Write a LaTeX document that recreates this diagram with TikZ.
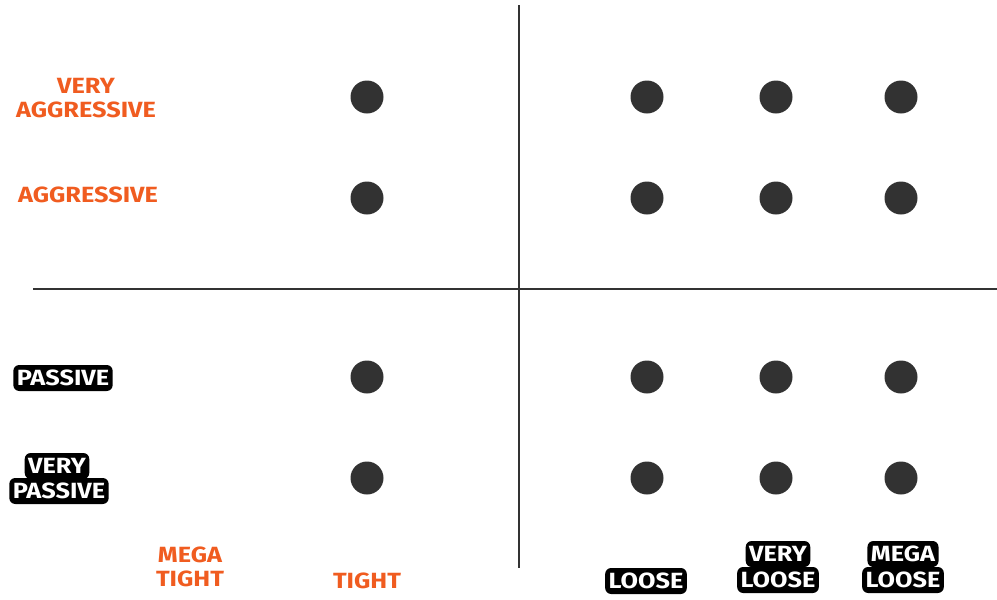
\documentclass[tikz,border=0pt]{standalone}
\usepackage{fontspec}
\setmainfont{Fira Sans}[FakeStretch=1.15]
\definecolor{orangelab}{RGB}{240,92,32}
\definecolor{dotgray}{RGB}{50,50,50}
\begin{document}
\begin{tikzpicture}[x=1pt,y=-1pt,
  lab/.style={font=\bfseries\fontsize{22}{24}\selectfont, align=center, inner sep=0pt},
  olab/.style={lab, text=orangelab},
  blab/.style={font=\bfseries\fontsize{22}{24}\selectfont, text=white, fill=black,
    rounded corners=6pt, text height=15pt, text depth=0pt, inner xsep=3.5pt, inner ysep=5.5pt},
  dot/.style={circle, fill=dotgray, minimum size=33pt, inner sep=0pt},
  axis/.style={draw=black!80, line width=1.3pt}]
\useasboundingbox (0,0) rectangle (997,600);
% axes
\coordinate (vt) at (519,5); \coordinate (vb) at (519,568);
\coordinate (hl) at (33,289); \coordinate (hr) at (997,289);
\draw[axis] (vt) -- (vb);
\draw[axis] (hl) -- (hr);
% dots
\foreach \r/\y in {1/97,2/198,3/377,4/478}{
  \foreach \c/\x in {1/367,2/647,3/776,4/901}{
    \node[dot] (d\r\c) at (\x,\y) {};
  }
}
% orange labels
\node[olab] (va) at (86,98) {VERY\\AGGRESSIVE};
\node[olab] (ag) at (88,195) {AGGRESSIVE};
\node[olab] (mt) at (190,567) {MEGA\\TIGHT};
\node[olab] (ti) at (367,581) {TIGHT};
% outlined labels
\node[blab] (pa) at (63,378) {PASSIVE};
\node[blab] (vp1) at (57,466) {VERY};
\node[blab] (vp2) at (59,491) {PASSIVE};
\node[blab] (lo) at (646,581) {LOOSE};
\node[blab] (vl1) at (778,554) {VERY};
\node[blab] (vl2) at (778,580) {LOOSE};
\node[blab] (ml1) at (903,554) {MEGA};
\node[blab] (ml2) at (903,580) {LOOSE};
\end{tikzpicture}
\end{document}
